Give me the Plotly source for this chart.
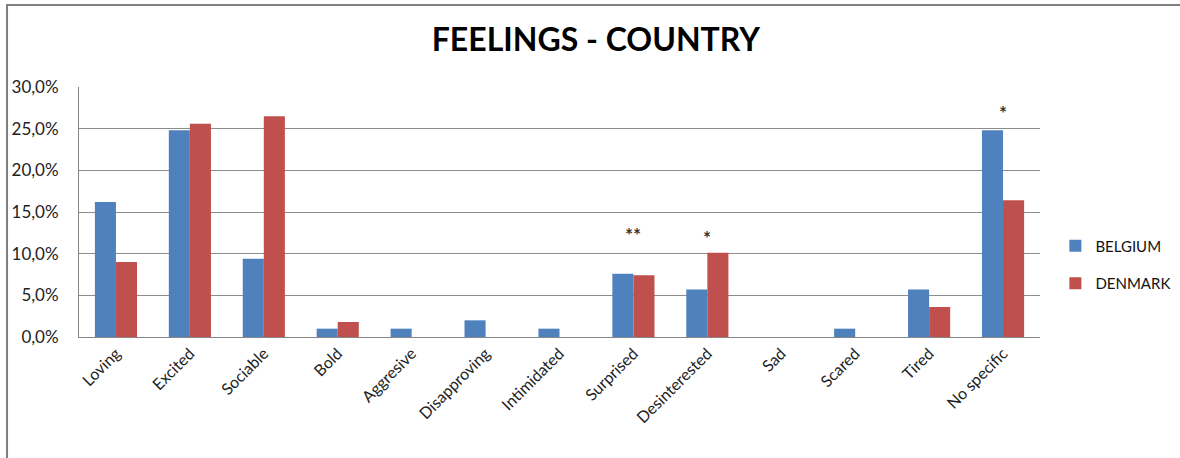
import plotly.graph_objects as go

categories = ["Loving", "Excited", "Sociable", "Bold", "Aggresive", "Disapproving",
              "Intimidated", "Surprised", "Desinterested", "Sad", "Scared", "Tired", "No specific"]
belgium = [16.2, 24.8, 9.4, 1.0, 1.0, 2.0, 1.0, 7.6, 5.7, 0.0, 1.0, 5.7, 24.8]
denmark = [9.0, 25.6, 26.5, 1.8, 0.0, 0.0, 0.0, 7.4, 10.1, 0.0, 0.0, 3.6, 16.4]
sig_categories = ["Surprised", "Desinterested", "No specific"]
sig_labels = ["**", "*", "*"]
sig_levels = [12.3, 12.0, 26.9]
y_ticks = [0, 5, 10, 15, 20, 25, 30]
y_ticktext = ["0,0%", "5,0%", "10,0%", "15,0%", "20,0%", "25,0%", "30,0%"]

FONT = "Lato, 'Open Sans', sans-serif"

fig = go.Figure()
fig.add_trace(go.Bar(x=categories, y=belgium, name="BELGIUM", legendgroup="b",
                     marker=dict(color="#4F81BD", line=dict(width=0))))
fig.add_trace(go.Bar(x=categories, y=denmark, name="DENMARK", legendgroup="d",
                     marker=dict(color="#C0504D", line=dict(width=0))))

for c, t, lv in zip(sig_categories, sig_labels, sig_levels):
    fig.add_annotation(x=c, y=lv, text="<b>" + t + "</b>", showarrow=False, xref="x", yref="y",
                       font=dict(family=FONT, size=19, color="#333"))

# outer chart frame (extends past right/bottom edge of the picture)
fig.add_shape(type="rect", xref="paper", yref="paper",
              x0=-0.0749, x1=1.25, y0=-0.6, y1=1.328,
              line=dict(color="#7f7f7f", width=2), fillcolor="rgba(0,0,0,0)")

fig.update_layout(
    width=1180, height=458,
    margin=dict(l=79, r=140, t=87, b=121, autoexpand=False),
    paper_bgcolor="white", plot_bgcolor="white",
    title=dict(text="<b>FEELINGS - COUNTRY</b>", x=0.505, xanchor="center",
               y=0.913, yanchor="middle",
               font=dict(family=FONT, size=32, color="#000")),
    barmode="group", bargap=0.43, bargroupgap=0,
    font=dict(family=FONT, size=16, color="#222"),
    legend=dict(x=1.016, xanchor="left", y=0.29, yanchor="middle",
                font=dict(family=FONT, size=15, color="#111"),
                tracegroupgap=15, itemwidth=30, bgcolor="rgba(0,0,0,0)"),
    showlegend=True,
)
fig.update_xaxes(tickangle=-45, showline=True, linecolor="#868686", linewidth=1,
                 showgrid=False, ticks="", tickfont=dict(family=FONT, size=16, color="#222"))
fig.update_yaxes(range=[0, 30], tickvals=y_ticks, ticktext=y_ticktext,
                 showgrid=True, gridcolor="#8c8c8c", gridwidth=1,
                 showline=True, linecolor="#868686", linewidth=1,
                 zeroline=False, ticks="", ticklabelstandoff=16,
                 tickfont=dict(family=FONT, size=17, color="#222"))

fig.write_html("out.html")
